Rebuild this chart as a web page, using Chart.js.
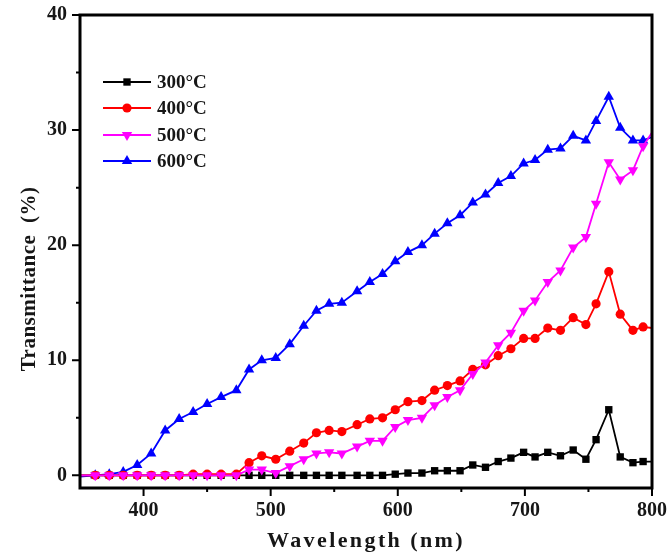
<!DOCTYPE html>
<html>
<head>
<meta charset="utf-8">
<script src="https://cdn.jsdelivr.net/npm/chart.js@4.4.1/dist/chart.umd.min.js"></script>
<style>
  html, body { margin: 0; padding: 0; background: #fff; }
  #wrap { width: 670px; height: 558px; }
</style>
</head>
<body>
<div id="wrap"><canvas id="chart" width="670" height="558"></canvas></div>
<script>
// wavelength grid (nm); first and last entries carry the line to the frame edges, no marker
const wavelengths = [350, 362, 373, 384, 395, 406, 417, 428, 439, 450, 461, 473, 483, 493, 504, 515, 526, 536, 546, 556,
  568, 578, 588, 598, 608, 619, 629, 639, 649, 659, 669, 679, 689, 699, 708, 718, 728, 738, 748, 756, 766, 775, 785, 793, 800];

const t300 = [0, 0, 0, 0, 0, 0, 0, 0, 0, 0, 0, 0, 0, 0, 0, 0, 0, 0, 0, 0,
  0, 0, 0, 0.1, 0.2, 0.2, 0.4, 0.4, 0.4, 0.9, 0.7, 1.2, 1.5, 2.0, 1.6, 2.0, 1.7, 2.2, 1.4, 3.1, 5.7, 1.6, 1.1, 1.2, 1.2];
const t400 = [0, 0, 0, 0, 0, 0, 0, 0, 0.1, 0.1, 0.1, 0.1, 1.1, 1.7, 1.4, 2.1, 2.8, 3.7, 3.9, 3.8,
  4.4, 4.9, 5.0, 5.7, 6.4, 6.5, 7.4, 7.8, 8.2, 9.2, 9.6, 10.4, 11.0, 11.9, 11.9, 12.8, 12.6, 13.7, 13.1, 14.9, 17.7, 14.0, 12.6, 12.9, 12.8];
const t500 = [0, 0, 0, 0, 0, 0, 0, 0, 0, 0, 0, 0, 0.5, 0.5, 0.2, 0.8, 1.4, 1.9, 2.0, 1.9,
  2.5, 3.0, 3.0, 4.2, 4.8, 5.0, 6.1, 6.8, 7.4, 8.8, 9.8, 11.3, 12.4, 14.3, 15.2, 16.8, 17.8, 19.8, 20.7, 23.6, 27.2, 25.7, 26.5, 28.6, 29.8];
const t600 = [-0.1, 0, 0.1, 0.3, 0.9, 1.9, 3.9, 4.9, 5.5, 6.2, 6.8, 7.4, 9.2, 10.0, 10.2, 11.4, 13.0, 14.3, 14.9, 15.0,
  16.0, 16.8, 17.5, 18.6, 19.4, 20.0, 21.0, 21.9, 22.6, 23.7, 24.4, 25.4, 26.0, 27.1, 27.4, 28.3, 28.4, 29.5, 29.1, 30.8, 32.9, 30.2, 29.1, 29.1, 29.4];

const seriesLabels = ['300°C', '400°C', '500°C', '600°C'];
const xTickValues = [400, 500, 600, 700, 800];
const yTickValues = [0, 10, 20, 30, 40];

const SERIF = '"Liberation Serif", "Times New Roman", serif';
const TEXT = '#161616';

function makeSet(label, values, color, style, radius, rotation, order) {
  const last = values.length - 1;
  return {
    label,
    data: wavelengths.map((x, i) => ({ x, y: values[i] })),
    borderColor: color,
    backgroundColor: color,
    borderWidth: 1.8,
    pointStyle: style,
    pointRotation: rotation,
    pointRadius: values.map((_, i) => (i === 0 || i === last ? 0 : radius)),
    pointBorderWidth: 0,
    tension: 0,
    order,
  };
}

const datasets = [
  makeSet(seriesLabels[0], t300, '#000000', 'rect', 5.2, 0, 2),
  makeSet(seriesLabels[1], t400, '#ff0000', 'circle', 4.6, 0, 1),
  makeSet(seriesLabels[2], t500, '#ff00ff', 'triangle', 6, 180, 0),
  makeSet(seriesLabels[3], t600, '#0000ff', 'triangle', 6, 0, 3),
];

// frame, outward tick marks, axis titles and the inset legend
const decorPlugin = {
  id: 'decor',
  afterDraw(chart) {
    const { ctx, chartArea: a, scales } = chart;
    ctx.save();
    ctx.strokeStyle = '#000';
    ctx.lineWidth = 3;
    ctx.strokeRect(a.left, a.top, a.right - a.left, a.bottom - a.top);

    ctx.lineWidth = 2;
    ctx.beginPath();
    for (let v = 0; v <= 40; v += 5) {
      const y = scales.y.getPixelForValue(v);
      const len = v % 10 === 0 ? 8 : 4;
      ctx.moveTo(a.left - len, y);
      ctx.lineTo(a.left, y);
    }
    for (let v = 400; v <= 800; v += 50) {
      const x = scales.x.getPixelForValue(v);
      const len = v % 100 === 0 ? 8 : 4;
      ctx.moveTo(x, a.bottom);
      ctx.lineTo(x, a.bottom + len);
    }
    ctx.stroke();

    ctx.fillStyle = TEXT;
    ctx.textAlign = 'center';
    ctx.textBaseline = 'middle';
    ctx.font = 'bold 22px ' + SERIF;
    ctx.letterSpacing = '2.4px';
    ctx.fillText('Wavelength (nm)', (a.left + a.right) / 2, 541);

    ctx.save();
    ctx.translate(30, 279);
    ctx.rotate(-Math.PI / 2);
    ctx.font = 'bold 21px ' + SERIF;
    ctx.letterSpacing = '0.5px';
    ctx.fillText('Transmittance  (%)', 0, 0);
    ctx.restore();

    ctx.letterSpacing = '0px';
    ctx.font = 'bold 19px ' + SERIF;
    ctx.textAlign = 'left';
    const rows = [82, 108, 135, 161];
    datasets.forEach((ds, i) => {
      const y = rows[i];
      ctx.strokeStyle = ds.borderColor;
      ctx.fillStyle = ds.backgroundColor;
      ctx.lineWidth = ds.borderWidth;
      ctx.beginPath();
      ctx.moveTo(103, y);
      ctx.lineTo(151, y);
      ctx.stroke();
      Chart.helpers.drawPoint(ctx, {
        pointStyle: ds.pointStyle,
        rotation: ds.pointRotation,
        radius: Math.max(...ds.pointRadius),
        borderWidth: 0,
      }, 127, y);
      ctx.fillStyle = TEXT;
      ctx.fillText(ds.label, 157, y + 1);
    });
    ctx.restore();
  },
};

new Chart(document.getElementById('chart'), {
  type: 'line',
  data: { datasets },
  options: {
    responsive: false,
    animation: false,
    layout: { padding: { top: 15, right: 18, left: 0, bottom: 0 } },
    plugins: { legend: { display: false }, tooltip: { enabled: false } },
    scales: {
      x: {
        type: 'linear',
        min: 350,
        max: 800,
        afterFit(scale) {
          scale.height = 70;
          scale.paddingLeft = 0;
          scale.paddingRight = 0;
        },
        afterBuildTicks(scale) { scale.ticks = xTickValues.map((value) => ({ value })); },
        grid: { display: false, drawTicks: false },
        border: { display: false },
        ticks: { padding: 11, color: TEXT, font: { family: SERIF, size: 20, weight: 'bold' } },
      },
      y: {
        type: 'linear',
        min: -1.1,
        max: 40,
        afterFit(scale) {
          scale.width = 80;
          scale.paddingTop = 0;
          scale.paddingBottom = 0;
        },
        afterBuildTicks(scale) { scale.ticks = yTickValues.map((value) => ({ value })); },
        grid: { display: false, drawTicks: false },
        border: { display: false },
        ticks: { padding: 13, color: TEXT, font: { family: SERIF, size: 20, weight: 'bold' } },
      },
    },
  },
  plugins: [decorPlugin],
});
</script>
</body>
</html>
